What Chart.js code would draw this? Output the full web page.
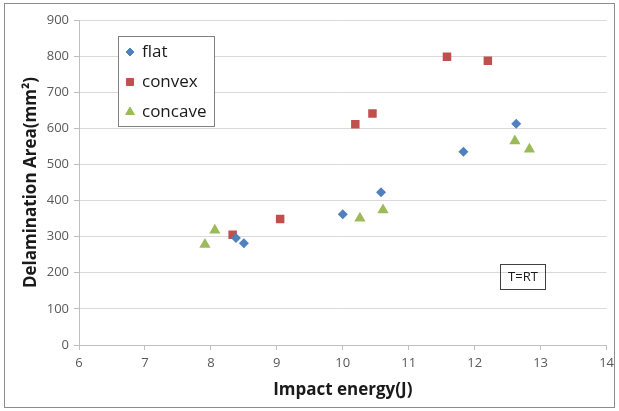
<!DOCTYPE html>
<html>
<head>
<meta charset="utf-8">
<script src="https://cdn.jsdelivr.net/npm/chart.js@4/dist/chart.umd.min.js"></script>
<style>
html,body{margin:0;padding:0;background:#fff;}
#wrap{width:619px;height:411px;position:relative;}
</style>
</head>
<body>
<div id="wrap"><canvas id="c" width="619" height="411"></canvas></div>
<script>
// ---- data ----
const seriesNames = ["flat", "convex", "concave"];
const flatX = [8.38, 8.50, 10.00, 10.58, 11.83, 12.63];
const flatY = [296, 282, 362, 423, 535, 613];
const convexX = [8.33, 9.05, 10.19, 10.45, 11.58, 12.20];
const convexY = [305, 349, 611, 641, 798, 787];
const concaveX = [7.91, 8.06, 10.26, 10.61, 12.61, 12.83];
const concaveY = [278, 318, 351, 374, 565, 542];
const xTicks = [6, 7, 8, 9, 10, 11, 12, 13, 14];
const yTicks = [0, 100, 200, 300, 400, 500, 600, 700, 800, 900];
const xTitle = "Impact energy(J)";
const yTitle = "Delamination Area(mm²)";
const noteText = "T=RT";

function pts(xs, ys){ return xs.map((x,i)=>({x:x, y:ys[i]})); }

const colors = ["#4f81bd", "#c0504d", "#9bbb59"];
const styles = ["rectRot", "rect", "triangle"];
const radii = [5, 6, 6.5];
const legendRadii = [4, 5, 5];

const FONT = "'Open Sans', 'Liberation Sans', sans-serif";

const decorPlugin = {
  id: 'decor',
  beforeDraw(chart){
    const ctx = chart.ctx;
    ctx.save();
    ctx.fillStyle = '#fff';
    ctx.fillRect(0,0,chart.width,chart.height);
    ctx.restore();
  },
  afterDraw(chart){
    const ctx = chart.ctx;
    ctx.save();
    // outer border
    ctx.strokeStyle = '#8c8c8c';
    ctx.lineWidth = 1;
    ctx.strokeRect(4.5, 3.5, 610, 404);
    // legend box
    const lx = 118.5, ly = 36.5, lw = 96, lh = 90;
    ctx.fillStyle = '#fff';
    ctx.fillRect(lx, ly, lw, lh);
    ctx.strokeStyle = '#7f7f7f';
    ctx.strokeRect(lx, ly, lw, lh);
    ctx.font = "17px " + FONT;
    ctx.textBaseline = 'middle';
    chart.data.datasets.forEach((ds, i) => {
      const cy = 52 + i*30;
      const cx = 130;
      ctx.fillStyle = ds.backgroundColor;
      ctx.strokeStyle = ds.backgroundColor;
      Chart.helpers.drawPoint(ctx, {
        pointStyle: ds.pointStyle, radius: legendRadii[i], rotation: 0, borderWidth: 1
      }, cx, cy);
      ctx.fillStyle = '#1a1a1a';
      ctx.fillText(ds.label, 142, cy);
    });
    // note box
    ctx.strokeStyle = '#404040';
    ctx.lineWidth = 1;
    ctx.strokeRect(500.5, 264.5, 45, 25);
    ctx.font = "13px " + FONT;
    ctx.fillStyle = '#1a1a1a';
    ctx.textAlign = 'center';
    ctx.fillText(noteText, 523, 277.5);
    ctx.restore();
  }
};

new Chart(document.getElementById('c'), {
  type: 'scatter',
  data: {
    datasets: [
      {label: seriesNames[0], data: pts(flatX, flatY)},
      {label: seriesNames[1], data: pts(convexX, convexY)},
      {label: seriesNames[2], data: pts(concaveX, concaveY)}
    ].map((d,i)=>Object.assign(d, {
      backgroundColor: colors[i], borderColor: colors[i], pointStyle: styles[i],
      pointRadius: radii[i], pointHoverRadius: radii[i], borderWidth: 0
    }))
  },
  options: {
    responsive: false,
    animation: false,
    events: [],
    layout: {padding: {left: 0, right: 12, top: 20, bottom: 0}},
    plugins: {legend: {display: false}, tooltip: {enabled: false}},
    scales: {
      x: {
        type: 'linear', min: xTicks[0], max: xTicks[xTicks.length-1],
        afterBuildTicks: s => { s.ticks = xTicks.map(v=>({value:v})); },
        afterFit: s => { s.height = 66; },
        grid: {color: 'rgba(0,0,0,0)', tickColor: '#bfbfbf', tickLength: 5, drawTicks: true},
        border: {display: true, color: '#bfbfbf'},
        ticks: {color: '#595959', font: {family: FONT, size: 13}, padding: 5, maxRotation: 0},
        title: {display: true, text: xTitle, color: '#1a1a1a', font: {family: FONT, size: 17, weight: 'bold'}, padding: {top: 0, bottom: 11}}
      },
      y: {
        type: 'linear', min: yTicks[0], max: yTicks[yTicks.length-1],
        afterBuildTicks: s => { s.ticks = yTicks.map(v=>({value:v})); },
        afterFit: s => { s.width = 79; },
        grid: {color: '#d9d9d9', tickColor: '#bfbfbf', tickLength: 5},
        border: {display: true, color: '#bfbfbf'},
        ticks: {color: '#595959', font: {family: FONT, size: 13}, padding: 5},
        title: {display: true, text: yTitle, color: '#1a1a1a', font: {family: FONT, size: 17, weight: 'bold'}, padding: {top: 21, bottom: 0}}
      }
    }
  },
  plugins: [decorPlugin]
});
</script>
</body>
</html>
